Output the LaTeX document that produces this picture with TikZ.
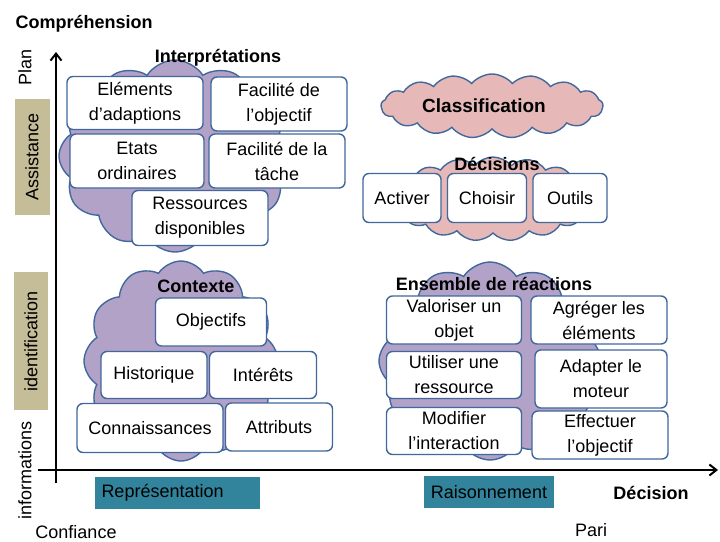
\documentclass[tikz,border=0pt]{standalone}
\usepackage{fontspec}
\setmainfont{Liberation Sans}
\usetikzlibrary{arrows.meta,positioning,shapes.symbols}

\definecolor{edgeblue}{HTML}{41689C}
\definecolor{lilac}{HTML}{B3A2C7}
\definecolor{rose}{HTML}{E6B9B8}
\definecolor{sand}{HTML}{C4BD97}
\definecolor{teal}{HTML}{31849B}

\begin{document}
\begin{tikzpicture}[
  x=1pt, y=-1pt,
  font=\fontsize{18}{25}\selectfont,
  puff/.style={cloud, cloud puffs=12, cloud puff arc=115, cloud ignores aspect, draw=edgeblue, line width=1.4pt, inner sep=0pt},
  flatpuff/.style={puff, cloud puffs=17, cloud puff arc=100},
  item/.style={draw=edgeblue, line width=1.4pt, rounded corners=6pt, fill=white, align=center, inner sep=0pt},
  title/.style={font=\fontsize{18}{22}\selectfont\bfseries},
  band/.style={fill=sand, inner sep=0pt, rotate=90},
  phase/.style={fill=teal, inner ysep=0pt, minimum height=32pt},
  axis/.style={line width=2.4pt, -{Straight Barb[length=7pt,width=11pt,line width=2pt]}}
]
\useasboundingbox (0,0) rectangle (720,541);

% clouds
\node[puff, fill=lilac, minimum width=232pt, minimum height=192pt] (interpcloud) at (175,156) {};
\node[flatpuff, fill=rose, minimum width=222pt, minimum height=64pt] (classcloud) at (492,106) {};
\node[flatpuff, fill=rose, minimum width=202pt, minimum height=84pt] (deccloud) at (493,199) {};
\node[puff, fill=lilac, minimum width=194pt, minimum height=200pt] (ctxcloud) at (181,361) {};
\node[puff, fill=lilac, minimum width=222pt, minimum height=198pt] (reactcloud) at (490,361) {};

% titles
\node[title, anchor=west] (compr) at (12,24) {Compréhension};
\node[title] (interptitle) at (218,58) {Interprétations};
\node[title, font=\fontsize{19}{22}\selectfont\bfseries] (classtitle) at (484,106) {Classification};
\node[title] (dectitle) at (497,164) {Décisions};
\node[title] (ctxtitle) at (196,286) {Contexte};
\node[title] (reacttitle) at (494,284) {Ensemble de réactions};
\node[title] (decision) at (651,493) {Décision};

% interpretations
\node[item, minimum width=136pt, minimum height=53pt] (elem) at (135,103) {Eléments\\d’adaptions};
\node[item, minimum width=136pt, minimum height=54pt] (facobj) at (279,104) {Facilité de\\l’objectif};
\node[item, minimum width=134pt, minimum height=54pt] (etats) at (137,161) {Etats\\ordinaires};
\node[item, minimum width=136pt, minimum height=54pt] (factache) at (277,161) {Facilité de la\\tâche};
\node[item, minimum width=136pt, minimum height=55pt] (ressources) at (200,218) {Ressources\\disponibles};

% decisions
\node[item, minimum width=78pt, minimum height=49pt] (activer) at (402,198) {Activer};
\node[item, minimum width=79pt, minimum height=49pt] (choisir) at (487,198) {Choisir};
\node[item, minimum width=74pt, minimum height=49pt] (outils) at (570,198) {Outils};

% contexte
\node[item, minimum width=111pt, minimum height=48pt] (objectifs) at (211,322) {Objectifs};
\node[item, minimum width=106pt, minimum height=47pt] (historique) at (154,375) {Historique};
\node[item, minimum width=107pt, minimum height=47pt] (interets) at (263,375) {Intérêts};
\node[item, minimum width=146pt, minimum height=49pt] (connaiss) at (150,428) {Connaissances};
\node[item, minimum width=107pt, minimum height=48pt] (attributs) at (279,427) {Attributs};

% reactions
\node[item, minimum width=135pt, minimum height=48pt] (valoriser) at (454,320) {Valoriser un\\objet};
\node[item, minimum width=136pt, minimum height=48pt] (agreger) at (599,320) {Agréger les\\éléments};
\node[item, minimum width=135pt, minimum height=47pt] (utiliser) at (454,375) {Utiliser une\\ressource};
\node[item, minimum width=132pt, minimum height=58pt] (adapter) at (601,379) {Adapter le\\moteur};
\node[item, minimum width=135pt, minimum height=47pt] (modifier) at (454,431) {Modifier\\l’interaction};
\node[item, minimum width=136pt, minimum height=48pt] (effectuer) at (600,435) {Effectuer\\l’objectif};

% axes
\coordinate (origin) at (56,483);
\coordinate (top) at (56,52);
\coordinate (left) at (38,470);
\coordinate (right) at (718,470);
\draw[axis] (origin) -- (top);
\draw[axis] (left) -- (right);

% axis labels
\node[rotate=90] (plan) at (25,67) {Plan};
\node[band, minimum width=116pt, minimum height=35pt] (assist) at (32,157) {Assistance};
\node[band, minimum width=138pt, minimum height=34pt] (ident) at (31,341) {identification};
\node[rotate=90] (infos) at (25,470) {informations};
\node (confiance) at (76,532) {Confiance};
\node (pari) at (591,530) {Pari};
\node[phase, text width=151pt, inner xsep=7pt] (repr) at (177,493) {Représentation};
\node[phase, minimum width=130pt] (raison) at (489,492) {Raisonnement};

\end{tikzpicture}
\end{document}
